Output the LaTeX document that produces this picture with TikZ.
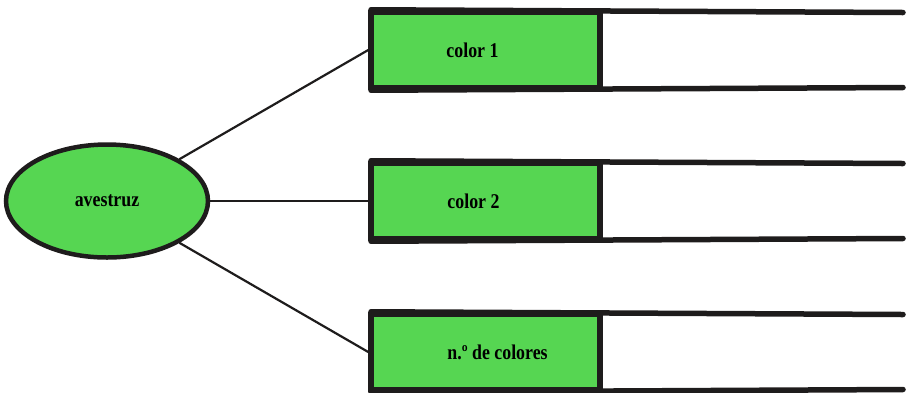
\documentclass[tikz,border=0pt]{standalone}
\usepackage{fontspec}
\setmainfont[FakeStretch=0.85]{Liberation Serif}
\usetikzlibrary{shapes.geometric}
\definecolor{leaf}{RGB}{86,214,82}
\definecolor{ink}{RGB}{30,28,28}
\tikzset{
  oval/.style={ellipse, draw=ink, line width=4.5pt, fill=leaf, minimum width=202pt, minimum height=113pt, inner sep=0pt, font=\bfseries\fontsize{21}{24}\selectfont},
  cbox/.style={rectangle, draw=ink, line width=5.5pt, fill=leaf, minimum width=229pt, minimum height=75pt, inner sep=0pt, font=\bfseries\fontsize{21}{24}\selectfont},
  rail/.style={draw=ink, line width=5.5pt, line cap=round, shorten <=2.75pt},
  link/.style={draw=ink, line width=2.2pt}
}
\begin{document}
\begin{tikzpicture}[x=1pt,y=-1pt]
\useasboundingbox (0,0) rectangle (909,392);
\node[oval] (ost) at (107,201) {avestruz};
\node[cbox] (b1) at (485.5,50) {\hspace*{-26pt}color 1};
\node[cbox] (b2) at (485.5,201) {\hspace*{-24pt}color 2};
\node[cbox] (b3) at (485.5,352) {\hspace*{24pt}n.º de colores};
\coordinate (t1) at (903,12.5);
\coordinate (u1) at (903,87.5);
\coordinate (t2) at (903,163.5);
\coordinate (u2) at (903,238.5);
\coordinate (t3) at (903,314.5);
\coordinate (u3) at (903,389.5);
\draw[rail] (b1.north west) -- (t1);
\draw[rail] (b1.south west) -- (u1);
\draw[rail] (b2.north west) -- (t2);
\draw[rail] (b2.south west) -- (u2);
\draw[rail] (b3.north west) -- (t3);
\draw[rail] (b3.south west) -- (u3);
\draw[link] (ost.30) -- (b1.west);
\draw[link] (ost.east) -- (b2.west);
\draw[link] (ost.-30) -- (b3.west);
\end{tikzpicture}
\end{document}
